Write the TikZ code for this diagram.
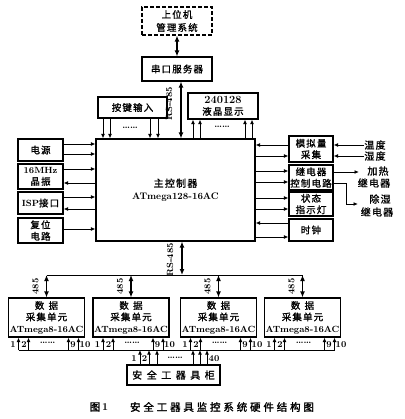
\documentclass[tikz,border=0pt]{standalone}
\usepackage{fontspec}
\usetikzlibrary{arrows.meta}
\newfontfamily\zh[LetterSpace=12,FakeBold=1.2]{Noto Sans CJK SC}
\newfontfamily\zhw[LetterSpace=45,FakeBold=1.2]{Noto Sans CJK SC}
\newfontfamily\zhc[LetterSpace=27,FakeBold=1.6]{Noto Sans CJK SC}
\newcommand\latb{\rmfamily\bfseries}
\newcommand\latx[1]{{\latb\fontsize{9}{11.5}\selectfont #1}}
\begin{document}
\begin{tikzpicture}[x=1pt,y=-1pt,
  box/.style={draw,line width=1.1pt,inner sep=0pt,align=center,font=\zh\fontsize{9.5}{11.5}\selectfont},
  sig/.style={line width=0.85pt,-{Latex[length=4.5pt,width=3.8pt]}},
  dbl/.style={line width=1.6pt,{Latex[length=6pt,width=5pt]}-{Latex[length=6pt,width=5pt]}},
  txt/.style={inner sep=0pt,font=\latb\fontsize{9}{10}\selectfont},
  zlab/.style={inner sep=0pt,align=center,font=\zh\fontsize{10}{12}\selectfont},
  busline/.style={line width=1pt}
]
\useasboundingbox (0,0) rectangle (404,419);

% top
\node[box,dash pattern=on 4pt off 2pt,minimum width=70pt,minimum height=28pt,font=\zh\fontsize{9.5}{13}\selectfont] (pc) at (177,21) {上位机\\管理系统};
\node[box,minimum width=70pt,minimum height=24pt] (ser) at (177,69) {串口服务器};
\node[box,minimum width=69pt,minimum height=21pt] (key) at (132.5,107.5) {按键输入};
\node[box,minimum width=70pt,minimum height=26pt] (lcd) at (223,106) {{\latb\fontsize{11}{11.5}\selectfont 240128}\\液晶显示};
\node[box,minimum width=159pt,minimum height=102pt,font=\zh\fontsize{10}{12.5}\selectfont] (mcu) at (175.5,190) {主控制器\\{\latb\fontsize{9.5}{12.5}\selectfont ATmega128-16AC}};

% left
\node[box,minimum width=45pt,minimum height=22pt] (pw) at (40.5,150) {电源};
\node[box,minimum width=45pt,minimum height=25pt] (osc) at (40.5,176.5) {\latx{16MHz}\\晶振};
\node[box,minimum width=45pt,minimum height=22pt] (isp) at (40.5,203) {\latx{ISP}接口};
\node[box,minimum width=45pt,minimum height=25pt] (rst) at (40.5,230.5) {复位\\电路};

% right
\node[box,minimum width=44pt,minimum height=26pt] (adc) at (311,149) {模拟量\\采集};
\node[box,minimum width=44pt,minimum height=25pt] (rly) at (311,177.5) {继电器\\控制电路};
\node[box,minimum width=44pt,minimum height=24pt] (led) at (311,204) {状态\\指示灯};
\node[box,minimum width=44pt,minimum height=22pt] (clk) at (311,230) {时钟};

\node[zlab] (wd) at (375,145) {温度};
\node[zlab] (sd) at (375,156) {湿度};
\node[zlab] (jr1) at (378,171) {加热};
\node[zlab] (jr2) at (374,183) {继电器};
\node[zlab] (cs1) at (380,199) {除湿};
\node[zlab] (cs2) at (377,212) {继电器};
\coordinate (hot) at (359,172);
\coordinate (dhk) at (346,204);
\coordinate (dh) at (358,204);

% data units
\foreach \n/\x in {d1/46.5,d2/131,d3/218.5,d4/302.5}{
  \node[box,minimum width=76pt,minimum height=39pt] (\n) at (\x,317.5)
    {{\zhw 数据}\\采集单元\\\latx{ATmega8-16AC}};
}
\node[box,minimum width=93pt,minimum height=20pt,font=\zhw\fontsize{10}{12}\selectfont] (cab) at (173.5,375) {安全工器具柜};

% caption
\node[inner sep=0pt,font=\zhc\fontsize{10.5}{12}\selectfont] (fig) at (99,407) {图\,{\latb 1}};
\node[inner sep=0pt,font=\zhc\fontsize{10.5}{12}\selectfont] (cap) at (222,407) {安全工器具监控系统硬件结构图};

% ---- connectors top
\draw[dbl] (pc.south -| 177,0) -- (ser.north -| 177,0);
\draw[dbl] (ser.south -| 181,0) -- (mcu.north -| 181,0);
\node[txt,rotate=90] (rs1) at (169,104) {RS-485};

\foreach \x in {103,110,150,158}{\draw[sig] (key.south -| \x,0) -- (mcu.north -| \x,0);}
\node[txt] (kd) at (130,128) {\dots\dots};
\foreach \x in {193,200,245,252}{\draw[sig] (mcu.north -| \x,0) -- (lcd.south -| \x,0);}
\node[txt] (ld) at (222,127) {\dots\dots};

% left connectors
\draw[sig] (pw.east |- 0,144) -- (mcu.west |- 0,144);
\draw[sig] (pw.east |- 0,154) -- (mcu.west |- 0,154);
\draw[sig] (osc.east |- 0,169) -- (mcu.west |- 0,169);
\draw[sig] (mcu.west |- 0,183) -- (osc.east |- 0,183);
\draw[sig] (isp.east |- 0,197) -- (mcu.west |- 0,197);
\draw[sig] (mcu.west |- 0,209) -- (isp.east |- 0,209);
\draw[sig] (rst.east |- 0,229) -- (mcu.west |- 0,229);

% right connectors
\draw[sig] (adc.west |- 0,145) -- (mcu.east |- 0,145);
\draw[sig] (mcu.east |- 0,156) -- (adc.west |- 0,156);
\draw[sig] (mcu.east |- 0,171) -- (rly.west |- 0,171);
\draw[sig] (mcu.east |- 0,182) -- (rly.west |- 0,182);
\draw[sig] (mcu.east |- 0,198) -- (led.west |- 0,198);
\draw[sig] (mcu.east |- 0,209) -- (led.west |- 0,209);
\draw[sig] (clk.west |- 0,223) -- (mcu.east |- 0,223);
\draw[sig] (mcu.east |- 0,237) -- (clk.west |- 0,237);

\draw[sig] (wd.west) -- (adc.east |- wd.west);
\draw[sig] (sd.west) -- (adc.east |- sd.west);
\draw[sig] (rly.east |- hot) -- (hot);
\draw[sig] (rly.east |- 0,183) -| (dhk) -- (dh);

% bus
\coordinate (busm) at (182,275);
\draw[dbl] (mcu.south -| busm) -- (busm);
\node[txt,rotate=90] (rs2) at (170,260) {RS-485};
\draw[busline] (d1.north |- busm) -- (d4.north |- busm);
\foreach \n in {d1,d2,d3,d4}{
  \draw[dbl] (\n.north |- busm) -- (\n.north);
  \path (\n.north) ++(-11,-11) node[txt,rotate=90] {485};
}

% pin bus
\coordinate (pl) at (18.5,350);
\coordinate (pr) at (334.5,350);
\draw[line width=0.9pt] (pl) -- (pr);
\foreach \n/\l in {d1/8.5,d2/93,d3/180.5,d4/264.5}{
  \foreach \o in {10,20,60,70}{
    \pgfmathsetmacro\px{\l+\o}
    \draw[sig] (pl -| \px,0) -- (\n.south -| \px,0);
  }
  \pgfmathsetmacro\aa{\l+4.5}
  \pgfmathsetmacro\bb{\l+15.5}
  \pgfmathsetmacro\cc{\l+64.5}
  \pgfmathsetmacro\dd{\l+76.5}
  \pgfmathsetmacro\ee{\l+39}
  \node[txt] at (\aa,345) {1};
  \node[txt] at (\bb,345) {2};
  \node[txt] at (\cc,345) {9};
  \node[txt] at (\dd,345) {10};
  \node[txt] at (\ee,343) {\dots\dots};
}
\foreach \x in {140,149,157,193,200,207}{\draw[sig] (cab.north -| \x,0) -- (pl -| \x,0);}
\node[txt] at (134,359) {1};
\node[txt] at (144.5,359) {2};
\node[txt] at (214,359) {40};
\node[txt] at (175,358) {\dots\dots};
\end{tikzpicture}
\end{document}
